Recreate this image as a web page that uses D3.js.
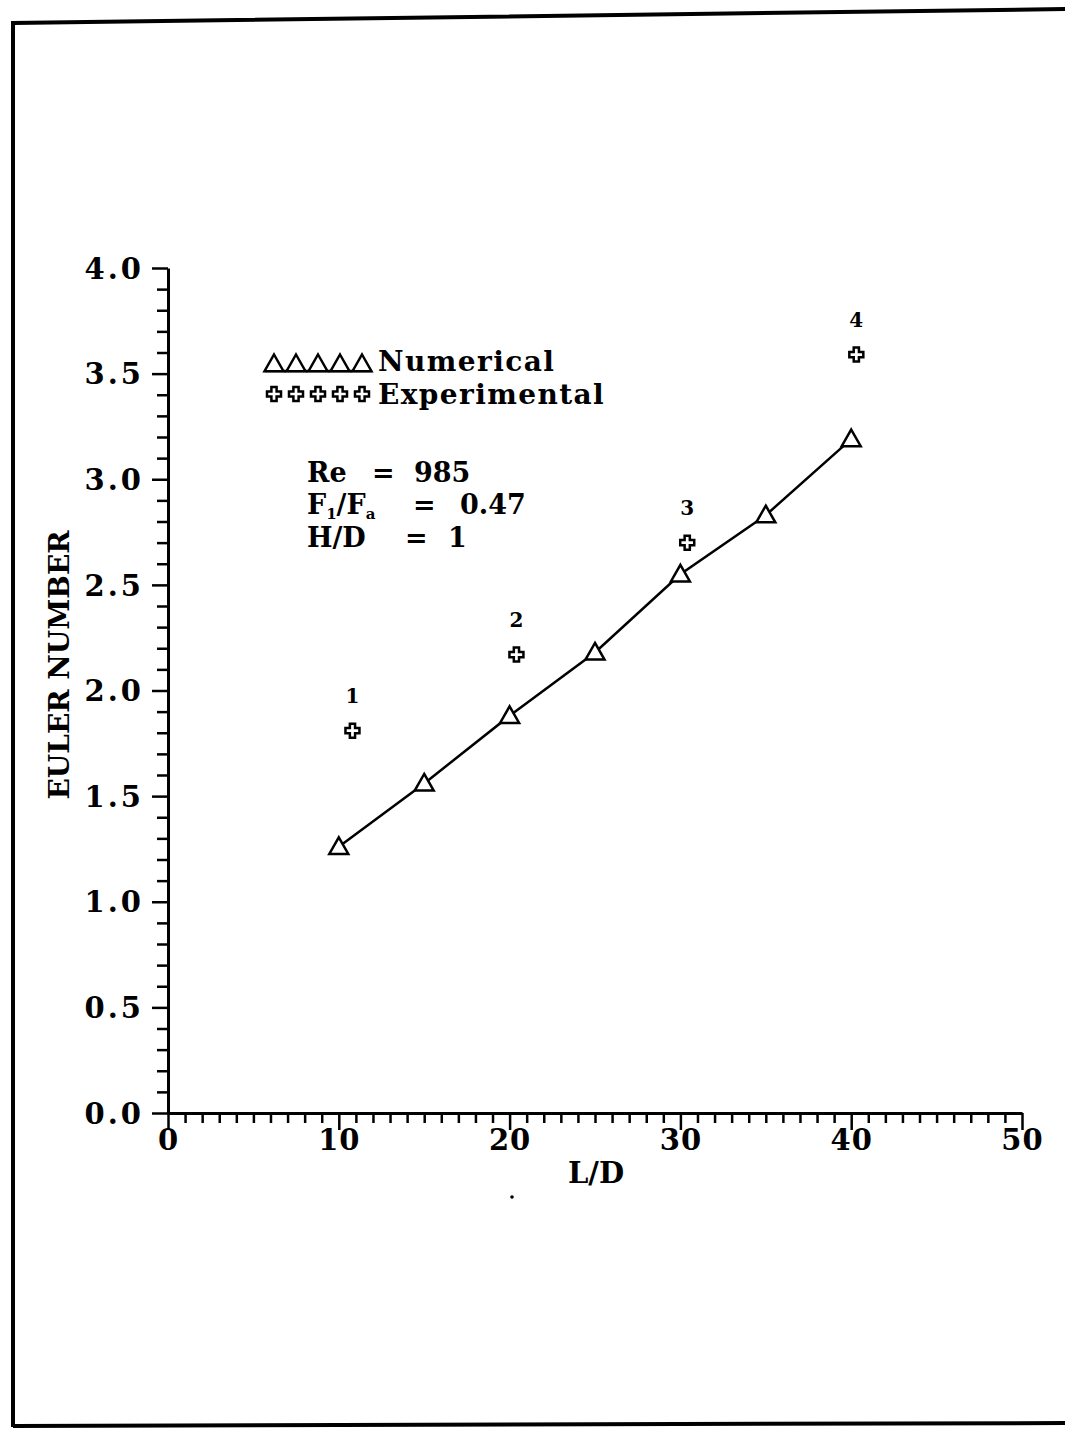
<!DOCTYPE html>
<html>
<head>
<meta charset="utf-8">
<script src="https://cdn.jsdelivr.net/npm/d3@7"></script>
<style>
  html, body { margin: 0; padding: 0; background: #fff; }
  svg { display: block; }
  text { font-family: "DejaVu Serif", "Liberation Serif", serif; font-weight: bold; fill: #000; }
</style>
</head>
<body>
<script>
// ---- data ----
const numX = [10, 15, 20, 25, 30, 35, 40];
const numY = [1.26, 1.56, 1.88, 2.18, 2.55, 2.83, 3.19];
const expX = [10.8, 20.4, 30.4, 40.3];
const expY = [1.81, 2.17, 2.70, 3.59];
const expLabels = ["1", "2", "3", "4"];
const xTickLabels = [0, 10, 20, 30, 40, 50];
const yTickLabels = [0.0, 0.5, 1.0, 1.5, 2.0, 2.5, 3.0, 3.5, 4.0];
const legendLabels = ["Numerical", "Experimental"];
const annotLeft = ["Re", "F1/Fa", "H/D"];
const annotRight = ["985", "0.47", "1"];

const W = 1065, H = 1430;
const svg = d3.select("body").append("svg").attr("width", W).attr("height", H);

// page border (scanned frame)
svg.append("path")
  .attr("d", "M13,1427 L13,23 L1065,9")
  .attr("fill", "none").attr("stroke", "#000").attr("stroke-width", 4);
svg.append("path")
  .attr("d", "M13,1426 L1065,1423")
  .attr("fill", "none").attr("stroke", "#000").attr("stroke-width", 4);

const x = d3.scaleLinear().domain([0, 50]).range([168, 1022]);
const y = d3.scaleLinear().domain([0, 4]).range([1113, 268]);

// ---- y axis ----
const yMinor = d3.range(0, 41).map(d => d / 10);
const isMajorY = d => yTickLabels.some(v => Math.abs(v - d) < 1e-6);
const yAxis = d3.axisLeft(y).tickValues(yMinor)
  .tickFormat(d => isMajorY(d) ? d.toFixed(1) : "")
  .tickSizeOuter(0).tickPadding(18);
const gy = svg.append("g").attr("transform", `translate(${x(0)},0)`).call(yAxis);
gy.select(".domain").attr("stroke-width", 3);
gy.selectAll(".tick line").attr("stroke-width", 2.5)
  .attr("x2", d => isMajorY(d) ? -16 : -11);
gy.selectAll(".tick text")
  .style("font-size", "29px").style("letter-spacing", "3px")
  .attr("dy", "0.35em");

// ---- x axis ----
const xMinor = d3.range(0, 51);
const xAxis = d3.axisBottom(x).tickValues(xMinor)
  .tickFormat(d => xTickLabels.includes(d) ? String(d) : "")
  .tickSizeOuter(0).tickPadding(6);
const gx = svg.append("g").attr("transform", `translate(0,${y(0)})`).call(xAxis);
gx.select(".domain").attr("stroke-width", 3);
gx.selectAll(".tick line").attr("stroke-width", 2.5)
  .attr("y2", d => xTickLabels.includes(d) ? 17 : 10);
gx.selectAll(".tick text").style("font-size", "29px").style("letter-spacing", "1px")
  .attr("y", 16).attr("dy", "0.71em");

// axis titles
svg.append("text").attr("transform", `translate(69,665) rotate(-90)`)
  .attr("text-anchor", "middle").style("font-size", "28px").text("EULER NUMBER");
svg.append("text").attr("x", 596).attr("y", 1183)
  .attr("text-anchor", "middle").style("font-size", "29px").text("L/D");
// scan speck
svg.append("circle").attr("cx", 512).attr("cy", 1197).attr("r", 1.8).attr("fill", "#000");

// ---- markers ----
const triPath = (cx, cy) => {
  const s = 9.5;
  return `M${cx},${cy - s} L${cx + s},${cy + s * 0.75} L${cx - s},${cy + s * 0.75} Z`;
};
const crossPath = (cx, cy) => {
  const a = 7, b = 2.6;
  return `M${cx - b},${cy - a} H${cx + b} V${cy - b} H${cx + a} V${cy + b} H${cx + b} V${cy + a} H${cx - b} V${cy + b} H${cx - a} V${cy - b} H${cx - b} Z`;
};

const numData = numX.map((d, i) => ({ x: d, y: numY[i] }));
const expData = expX.map((d, i) => ({ x: d, y: expY[i], label: expLabels[i] }));

svg.append("path").datum(numData)
  .attr("d", d3.line().x(d => x(d.x)).y(d => y(d.y)))
  .attr("fill", "none").attr("stroke", "#000").attr("stroke-width", 2.5);

svg.selectAll(".tri").data(numData).join("path").attr("class", "tri")
  .attr("d", d => triPath(x(d.x), y(d.y)))
  .attr("fill", "#fff").attr("stroke", "#000").attr("stroke-width", 2.5)
  .attr("stroke-linejoin", "miter");

svg.selectAll(".crs").data(expData).join("path").attr("class", "crs")
  .attr("d", d => crossPath(x(d.x), y(d.y)))
  .attr("fill", "#fff").attr("stroke", "#000").attr("stroke-width", 2.5);

svg.selectAll(".lbl").data(expData).join("text").attr("class", "lbl")
  .attr("x", d => x(d.x)).attr("y", d => y(d.y) - 28)
  .attr("text-anchor", "middle").style("font-size", "20px").text(d => d.label);

// ---- legend ----
const legX = d3.range(5).map(i => 274 + i * 22);
svg.append("line").attr("x1", 265).attr("x2", 372).attr("y1", 371).attr("y2", 371)
  .attr("stroke", "#000").attr("stroke-width", 2.5);
svg.selectAll(".ltri").data(legX).join("path").attr("class", "ltri")
  .attr("d", d => triPath(d, 364))
  .attr("fill", "#fff").attr("stroke", "#000").attr("stroke-width", 2.5);
svg.selectAll(".lcrs").data(legX).join("path").attr("class", "lcrs")
  .attr("d", d => crossPath(d, 394))
  .attr("fill", "#fff").attr("stroke", "#000").attr("stroke-width", 2.5);
svg.selectAll(".ltxt").data(legendLabels).join("text").attr("class", "ltxt")
  .attr("x", 378).attr("y", (d, i) => 371 + i * 33)
  .style("font-size", "28px").style("letter-spacing", "1.4px").text(d => d);

// ---- annotation ----
const annY = [482, 514, 547];
const eqX = [372, 413, 405];
const valX = [414, 460, 448];
const ann = svg.append("g").style("font-size", "27px");
annotLeft.forEach((lab, i) => {
  const t = ann.append("text").attr("y", annY[i]);
  if (lab === "F1/Fa") {
    t.append("tspan").attr("x", 307).text("F");
    t.append("tspan").attr("dy", 5).style("font-size", "15px").text("1");
    t.append("tspan").attr("dy", -5).text("/F");
    t.append("tspan").attr("dy", 5).style("font-size", "15px").text("a");
    t.append("tspan").attr("dy", -5).attr("x", eqX[i]).text("=");
  } else {
    t.append("tspan").attr("x", 307).text(lab);
    t.append("tspan").attr("x", eqX[i]).text("=");
  }
  t.append("tspan").attr("x", valX[i]).text(annotRight[i]);
});
</script>
</body>
</html>
